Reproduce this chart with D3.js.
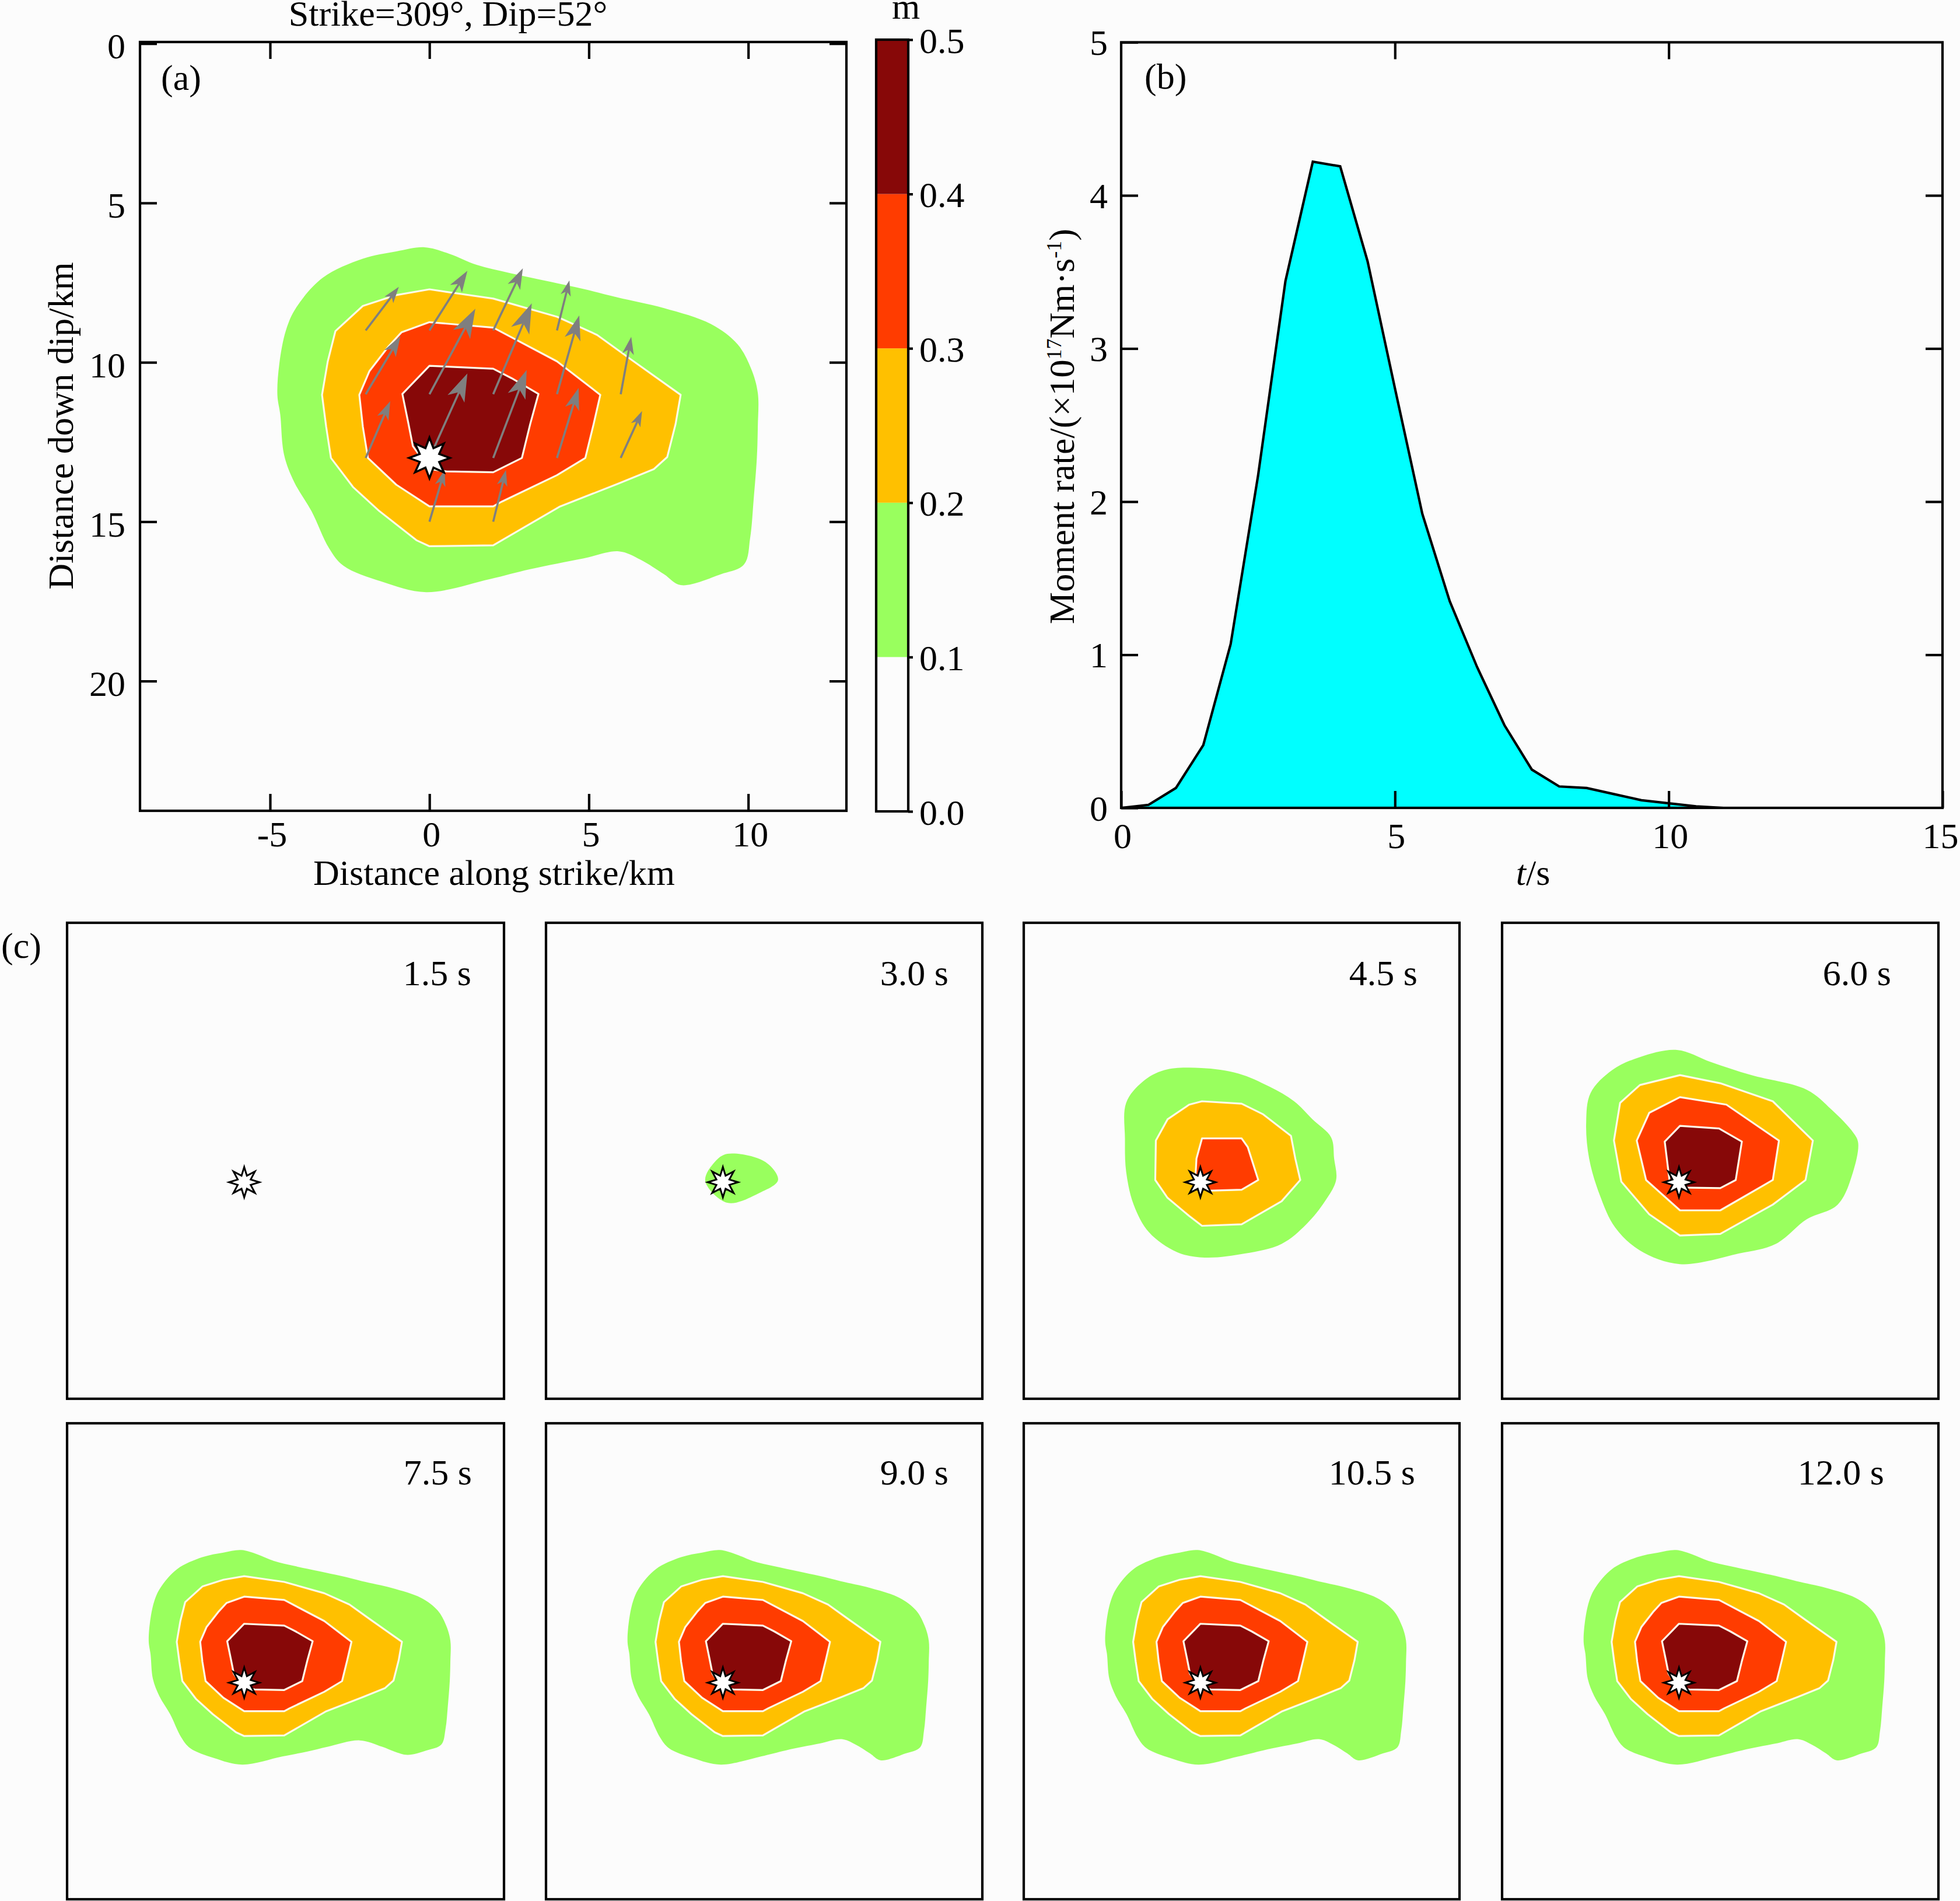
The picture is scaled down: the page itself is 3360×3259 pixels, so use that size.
<!DOCTYPE html>
<html><head><meta charset="utf-8">
<script src="https://cdn.jsdelivr.net/npm/d3@7/dist/d3.min.js"></script>
<style>
html,body{margin:0;padding:0;background:#fcfcfc;overflow:hidden}
text{font-family:"Liberation Serif","Times New Roman",serif;fill:#000}
</style></head><body>
<svg id="c" width="3360" height="3259"></svg>
<script>
// ---------- data ----------
const bandEdges=[0,0.1,0.2,0.3,0.4,0.5];
const bandColors=["#fcfcfc","#99ff5e","#ffc000","#ff3c00","#870808"];
const levelColors=bandColors.slice(1);
const xTicksA=[-5,0,5,10], yTicksA=[0,5,10,15,20];
const xTicksB=[0,5,10,15], yTicksB=[0,1,2,3,4,5];
const barTicks=[0,0.1,0.2,0.3,0.4,0.5];
const momentTime=[0,0.5,1,1.5,2,2.5,3,3.5,4,4.5,5,5.5,6,6.5,7,7.5,8,8.5,9,9.5,10,10.5,11,11.5,12,13,14,15];
const momentRate=[0,0.02,0.13,0.41,1.07,2.17,3.44,4.22,4.19,3.57,2.74,1.92,1.35,0.92,0.54,0.25,0.14,0.13,0.09,0.05,0.03,0.01,0,0,0,0,0,0];

const greenFinal=[[-0.15,6.39],[0.64,6.6],[1.48,6.94],[2.53,7.2],[3.79,7.47],[4.84,7.7],[5.89,7.96],[7.36,8.3],[8.83,8.8],[9.67,9.44],[10.09,10.2],[10.3,10.96],[10.3,12.02],[10.27,13],[10.17,14.3],[10.06,15.51],[9.87,16.34],[9.14,16.65],[7.88,16.99],[7.36,16.65],[6.62,16.19],[5.94,15.93],[4.84,16.15],[3.16,16.49],[1.9,16.8],[-0.1,17.21],[-1.5,16.88],[-2.7,16.38],[-3.15,15.83],[-3.7,14.67],[-4.24,13.76],[-4.56,12.9],[-4.68,11.64],[-4.77,11.03],[-4.71,10.05],[-4.5,8.99],[-4.19,8.3],[-3.35,7.35],[-2.09,6.75],[-1.04,6.52]];
const orangeFinal=[[0,7.71],[2,8],[4,8.57],[5.26,9.14],[6.31,9.9],[7.88,11.02],[7.72,11.94],[7.46,12.97],[7.04,13.35],[5.94,13.8],[4.1,14.52],[2,15.74],[0,15.77],[-0.41,15.58],[-1.57,14.67],[-2.4,13.91],[-3.09,13],[-3.24,12.02],[-3.37,11.02],[-3.19,9.97],[-2.95,9.02],[-2.09,8.23],[-1.04,7.89]];
const redFinal=[[0,8.74],[2,8.91],[4,9.97],[5.36,11.02],[5.15,11.94],[4.89,13],[4,13.54],[2.27,14.37],[2,14.52],[0,14.52],[-1.04,13.84],[-1.93,13],[-2.09,12.02],[-2.2,11.02],[-1.88,10.27],[-1.3,9.52],[-0.88,9.06]];
const darkFinal=[[0,10.11],[2,10.2],[2.58,10.5],[3.42,10.99],[3.16,11.94],[2.9,13],[2,13.45],[0.53,13.42],[0,13.35],[-0.52,12.63],[-0.67,11.87],[-0.85,10.99]];

const green75=[[-0.15,6.39],[0.64,6.6],[1.48,6.94],[2.53,7.2],[3.79,7.47],[4.84,7.7],[5.89,7.96],[7.36,8.3],[8.83,8.8],[9.67,9.44],[10.09,10.2],[10.3,10.96],[10.3,12.02],[10.27,13],[10.17,14.3],[10.06,15.4],[9.85,16.2],[9.1,16.5],[8.16,16.72],[7.5,16.55],[6.89,16.31],[5.77,15.99],[4.18,16.31],[3.16,16.55],[1.9,16.8],[-0.1,17.21],[-1.5,16.88],[-2.7,16.38],[-3.15,15.83],[-3.7,14.67],[-4.24,13.76],[-4.56,12.9],[-4.68,11.64],[-4.77,11.03],[-4.71,10.05],[-4.5,8.99],[-4.19,8.3],[-3.35,7.35],[-2.09,6.75],[-1.04,6.52]];

const green30=[[0.15,11.65],[2.06,12.06],[2.7,12.97],[1.74,13.63],[0.15,14.12],[-0.97,13.02],[-0.49,12.06]];

const green45=[[-0.03,7.32],[1.84,7.6],[3.4,8.26],[4.65,9],[5.58,9.91],[6.52,10.82],[6.67,11.89],[6.77,12.97],[6.21,14.04],[5.27,15.2],[4.02,16.19],[2.16,16.68],[0.13,16.88],[-1.27,16.6],[-2.67,15.61],[-3.45,14.21],[-3.83,12.55],[-3.89,10.9],[-3.83,9.08],[-2.99,8.01],[-1.9,7.43]];
const orange45=[[0,9],[2,9.12],[3.09,9.66],[4.49,10.74],[4.71,11.89],[4.96,12.97],[4.02,14.04],[2,15.2],[0,15.28],[-0.65,14.78],[-1.74,13.87],[-2.36,12.97],[-2.33,10.98],[-1.74,9.91],[-0.65,9.17]];
const red45=[[0,10.87],[2,10.87],[2.31,11.31],[2.84,12.97],[2,13.46],[0.29,13.51],[-0.34,12.97],[-0.28,11.89]];

const green60=[[-0.18,6.41],[1.53,7.02],[3.56,7.68],[6.36,8.42],[7.61,9.42],[8.7,10.57],[8.95,11.07],[8.7,12.55],[7.92,14.21],[6.36,14.95],[4.8,16.19],[2.93,16.68],[-0.03,17.21],[-2.05,16.52],[-3.3,15.36],[-4.08,13.71],[-4.61,11.89],[-4.76,10.08],[-4.54,8.59],[-3.45,7.43],[-2.05,6.77]];
const orange60=[[-0.03,7.68],[2,8.09],[4.65,9],[6.67,10.98],[6.3,12.97],[4.65,14.21],[2,15.69],[-0.03,15.77],[-1.58,14.7],[-2.99,13.05],[-3.36,10.98],[-3.05,9.08],[-2.05,8.18]];
const red60=[[-0.03,8.79],[2.31,9.17],[4.96,10.98],[4.65,12.97],[2,14.5],[-0.03,14.5],[-1.74,12.97],[-2.21,10.98],[-1.58,9.58]];
const dark60=[[-0.03,10.24],[1.94,10.37],[3.09,11.03],[2.78,12.97],[2,13.38],[-0.03,13.35],[-0.56,12.97],[-0.8,11.03]];

const finalLevels=[greenFinal,orangeFinal,redFinal,darkFinal];
const snapshotLabels=["1.5 s","3.0 s","4.5 s","6.0 s","7.5 s","9.0 s","10.5 s","12.0 s"];
const snapshotLevels=[[],[green30],[green45,orange45,red45],[green60,orange60,red60,dark60],[green75,orangeFinal,redFinal,darkFinal],finalLevels,finalLevels,finalLevels];
const hypocentre=[0,13];
const snapshotHypocentre=[0,13.08];

const arrowTails=[[-2,9],[0,9],[2,9],[4,9],[-2,11],[0,11],[2,11],[4,11],[6,11],[-2,13],[0,13],[2,13],[4,13],[6,13],[0,15],[2,15]];
const arrowHeads=[[-0.96,7.63],[1.19,7.13],[2.93,7.05],[4.39,7.43],[-0.91,9.18],[1.44,8.32],[3.21,8.15],[4.7,8.53],[6.33,9.2],[-1.23,11.22],[1.19,10.35],[3.05,10.24],[4.68,10.8],[6.67,11.53],[0.48,13.38],[2.4,13.38]];

// ---------- layout ----------
const FS=62, LW=4.2;
const svg=d3.select("#c");
const xDomainFine=[-8.85,12.98], xDomainEarly=[-9,13], yDomain=[0,24];
const panelCols=[[115,864],[936,1684],[1755,2502],[2575,3323]];
const panelRows=[[1582,2398],[2440,3256]];
const labelEnds=[[808,1626,2430,3242],[809,1626,2426,3230]];
const labelBase=[1689,2545];

function text(parent,x,y,s,anchor){return parent.append("text").attr("x",x).attr("y",y).attr("font-size",FS).attr("text-anchor",anchor||"middle").text(s);}
function frame(parent,x0,x1,y0,y1){parent.append("rect").attr("x",x0).attr("y",y0).attr("width",x1-x0).attr("height",y1-y0).attr("fill","none").attr("stroke","#000").attr("stroke-width",LW);}
function styleAxis(g){
  g.select(".domain").remove();
  g.selectAll(".tick line").attr("stroke","#000").attr("stroke-width",LW);
}
const lineClosed=d3.line().curve(d3.curveLinearClosed);
const lineRound=d3.line().curve(d3.curveCatmullRomClosed.alpha(0.5));

function drawLevels(g,levels,x,y){
  levels.forEach((pts,i)=>{
    const scaled=pts.map(p=>[x(p[0]),y(p[1])]);
    g.append("path")
      .attr("d",i===0?lineRound(scaled):lineClosed(scaled))
      .attr("fill",levelColors[i])
      .attr("stroke",i===0?"none":"#fffbe8")
      .attr("stroke-width",3.2)
      .attr("stroke-linejoin","round");
  });
}
function drawStar(g,cx,cy,R,r,sw){
  const n=8, pts=d3.range(n*2).map(k=>[k*Math.PI/n,k%2?r:R]);
  g.append("path").attr("transform",`translate(${cx},${cy})`)
    .attr("d",d3.lineRadial().curve(d3.curveLinearClosed)(pts))
    .attr("fill","#fff").attr("stroke","#000").attr("stroke-width",sw).attr("stroke-linejoin","miter");
}

// ---------- panel (a) ----------
const ax=d3.scaleLinear().domain([-9.08,13.08]).range([240,1451]);
const ay=d3.scaleLinear().domain([-0.05,24.07]).range([72,1390]);
const ga=svg.append("g");
drawLevels(ga,finalLevels,ax,ay);
arrowTails.forEach((t,i)=>{
  const x0=ax(t[0]),y0=ay(t[1]),x1=ax(arrowHeads[i][0]),y1=ay(arrowHeads[i][1]);
  const L=Math.hypot(x1-x0,y1-y0),ux=(x1-x0)/L,uy=(y1-y0)/L,nx=-uy,ny=ux;
  const hl=0.3*L,hw=0.1*L,nk=0.22*L;
  ga.append("line").attr("x1",x0).attr("y1",y0).attr("x2",x1-ux*nk).attr("y2",y1-uy*nk)
    .attr("stroke","#7f7f7f").attr("stroke-width",3.6);
  ga.append("path").attr("d",lineClosed([[x1,y1],[x1-ux*hl+nx*hw,y1-uy*hl+ny*hw],[x1-ux*nk,y1-uy*nk],[x1-ux*hl-nx*hw,y1-uy*hl-ny*hw]]))
    .attr("fill","#7f7f7f");
});
drawStar(ga,ax(hypocentre[0]),ay(hypocentre[1]),35,18,3.5);
frame(ga,240,1451,72,1390);
const gaB=ga.append("g").attr("transform","translate(0,1390)").call(d3.axisBottom(ax).tickValues(xTicksA).tickSize(-29).tickSizeOuter(0).tickFormat(d=>String(d)));
styleAxis(gaB);
gaB.selectAll("text").attr("font-size",FS).attr("fill","#000").attr("y",61).attr("dy",0).attr("dx",3).attr("font-family","Liberation Serif");
const gaT=ga.append("g").attr("transform","translate(0,72)").call(d3.axisTop(ax).tickValues(xTicksA).tickSize(-29).tickSizeOuter(0).tickFormat(""));
styleAxis(gaT);
const gaL=ga.append("g").attr("transform","translate(240,0)").call(d3.axisLeft(ay).tickValues(yTicksA).tickSize(-29).tickSizeOuter(0));
styleAxis(gaL);
gaL.selectAll("text").attr("font-size",FS).attr("fill","#000").attr("x",-25).attr("dy",25).attr("font-family","Liberation Serif");
const gaR=ga.append("g").attr("transform","translate(1451,0)").call(d3.axisRight(ay).tickValues(yTicksA).tickSize(-29).tickSizeOuter(0).tickFormat(""));
styleAxis(gaR);
text(ga,768,44,"Strike=309°, Dip=52°");
text(ga,847,1517,"Distance along strike/km");
text(ga,276,154,"(a)","start");
text(ga,0,0,"Distance down dip/km").attr("transform","translate(125,730) rotate(-90)");

// ---------- colour bar ----------
const cb=d3.scaleLinear().domain([0,0.5]).range([1391,68]);
const gb=svg.append("g");
gb.selectAll("rect.band").data(bandColors).join("rect").attr("class","band")
  .attr("x",1502).attr("width",55).attr("y",(d,i)=>cb(bandEdges[i+1])).attr("height",(d,i)=>cb(bandEdges[i])-cb(bandEdges[i+1])).attr("fill",d=>d);
frame(gb,1502,1557,68,1391);
const gbR=gb.append("g").attr("transform","translate(1557,0)").call(d3.axisRight(cb).tickValues(barTicks).tickSize(8).tickSizeOuter(0).tickFormat(d3.format(".1f")));
styleAxis(gbR);
gbR.selectAll("text").attr("font-size",FS).attr("fill","#000").attr("x",19).attr("dy",22).attr("font-family","Liberation Serif");
text(gb,1553,32,"m");

// ---------- panel (b) ----------
const bx=d3.scaleLinear().domain([0,15]).range([1922,3330]);
const by=d3.scaleLinear().domain([0,5]).range([1385,72.5]);
const gc=svg.append("g");
const rateRows=momentTime.map((t,i)=>[t,momentRate[i]]);
gc.append("path").attr("d",d3.area().x(d=>bx(d[0])).y0(by(0)).y1(d=>by(d[1]))(rateRows)).attr("fill","#00ffff");
gc.append("path").attr("d",d3.line().x(d=>bx(d[0])).y(d=>by(d[1]))(rateRows)).attr("fill","none").attr("stroke","#000").attr("stroke-width",LW);
frame(gc,1922,3330,72.5,1385);
const gcB=gc.append("g").attr("transform","translate(0,1385)").call(d3.axisBottom(bx).tickValues(xTicksB).tickSize(-29).tickSizeOuter(0).tickFormat(d3.format("d")));
styleAxis(gcB);
gcB.selectAll("text").attr("font-size",FS).attr("fill","#000").attr("y",69).attr("dy",0).attr("dx",d=>d===15?-4:2).attr("font-family","Liberation Serif");
const gcT=gc.append("g").attr("transform","translate(0,72.5)").call(d3.axisTop(bx).tickValues(xTicksB.slice(1,3)).tickSize(-29).tickSizeOuter(0).tickFormat(""));
styleAxis(gcT);
const gcL=gc.append("g").attr("transform","translate(1922,0)").call(d3.axisLeft(by).tickValues(yTicksB).tickSize(-29).tickSizeOuter(0).tickFormat(d3.format("d")));
styleAxis(gcL);
gcL.selectAll("text").attr("font-size",FS).attr("fill","#000").attr("x",-23).attr("dy",21).attr("font-family","Liberation Serif");
const gcR=gc.append("g").attr("transform","translate(3330,0)").call(d3.axisRight(by).tickValues(yTicksB.slice(1,5)).tickSize(-29).tickSizeOuter(0).tickFormat(""));
styleAxis(gcR);
text(gc,1962,152,"(b)","start");
const tLab=text(gc,2628,1517,"");
tLab.append("tspan").attr("font-style","italic").text("t");
tLab.append("tspan").text("/s");
const mLab=text(gc,0,0,"").attr("transform","translate(1841,731) rotate(-90)");
mLab.append("tspan").text("Moment rate/(×10");
mLab.append("tspan").attr("font-size",36).attr("dy",-22).text("17");
mLab.append("tspan").attr("dy",22).text("Nm·s");
mLab.append("tspan").attr("font-size",36).attr("dy",-22).text("-1");
mLab.append("tspan").attr("dy",22).text(")");

// ---------- panel (c) ----------
const gd=svg.append("g");
text(gd,2,1642,"(c)","start");
snapshotLabels.forEach((lab,i)=>{
  const r=Math.floor(i/4),c=i%4;
  const [x0,x1]=panelCols[c],[y0,y1]=panelRows[r];
  const pxFine=d3.scaleLinear().domain(xDomainFine).range([x0,x1]);
  const pxEarly=d3.scaleLinear().domain(xDomainEarly).range([x0,x1]);
  const py=d3.scaleLinear().domain(yDomain).range([y0,y1]);
  const g=gd.append("g");
  drawLevels(g,snapshotLevels[i],i<4?pxEarly:pxFine,py);
  drawStar(g,pxFine(snapshotHypocentre[0]),py(snapshotHypocentre[1]),26,12,3);
  frame(g,x0,x1,y0,y1);
  text(g,labelEnds[r][c],labelBase[r],lab,"end");
});
</script>
</body></html>
